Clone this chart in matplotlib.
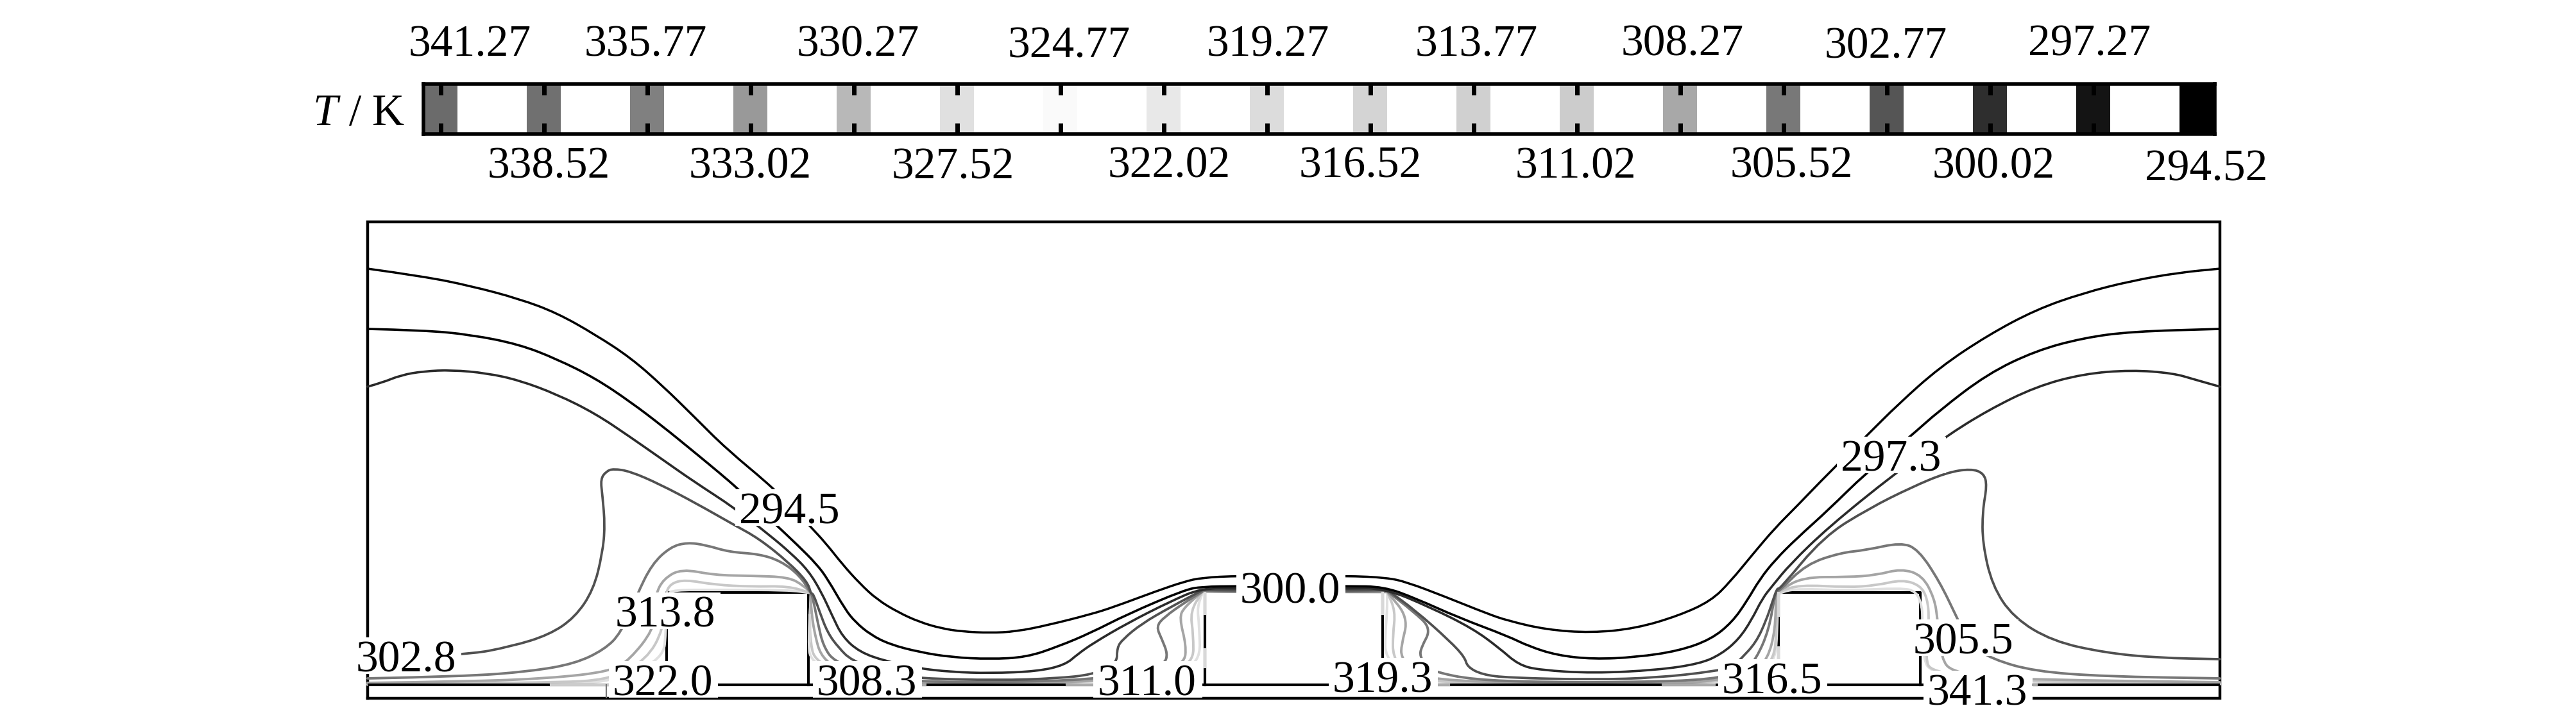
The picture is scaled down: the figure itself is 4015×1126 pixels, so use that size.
import matplotlib
matplotlib.use('Agg')
from matplotlib import pyplot as plt
from matplotlib.path import Path
from matplotlib.patches import PathPatch, Rectangle

W, H = 4016, 1126
plt.rcParams['font.family'] = ['Liberation Serif', 'DejaVu Serif']
plt.rcParams['mathtext.fontset'] = 'custom'
plt.rcParams['mathtext.it'] = 'Liberation Serif:italic'
plt.rcParams['mathtext.rm'] = 'Liberation Serif'

# colour bar values
temps = [341.27, 338.52, 335.77, 333.02, 330.27, 327.52, 324.77, 322.02, 319.27,
         316.52, 313.77, 311.02, 308.27, 305.52, 302.77, 300.02, 297.27, 294.52]
grays = ['#6b6b6b', '#707070', '#808080', '#999999', '#b8b8b8', '#e0e0e0', '#fafafa', '#e8e8e8', '#dcdcdc',
         '#d4d4d4', '#d0d0d0', '#cccccc', '#a8a8a8', '#787878', '#555555', '#2e2e2e', '#141414', '#000000']
temp_label_x = [732, 855, 1006, 1169, 1337, 1485, 1666, 1822, 1976,
                2120, 2301, 2456, 2622, 2792, 2939, 3107, 3257, 3439]
temp_label_y = [65, 255, 65, 255, 65, 256, 67, 254, 65, 254, 65, 255, 64, 254, 68, 255, 64, 259]

# isotherms (x, y in picture pixels), repeated points are sharp corners
line_a = [(573, 419), (660, 431), (734, 446), (809, 466), (868, 488), (928, 522), (983, 558), (1033, 602),
          (1082, 650), (1132, 700), (1209, 764), (1262, 820), (1287, 847), (1313, 880), (1340, 910), (1367, 935),
          (1400, 955), (1433, 970), (1467, 980), (1500, 985), (1543, 987), (1583, 985), (1633, 975), (1700, 958),
          (1735, 947), (1802, 922), (1846, 907), (1873, 901), (1929, 898), (2101, 898), (2162, 901), (2193, 908),
          (2251, 930), (2318, 957), (2350, 968), (2410, 982), (2480, 987), (2550, 980), (2617, 960), (2667, 937),
          (2697, 907), (2733, 863), (2767, 823), (2800, 790), (2850, 738), (2909, 680), (2959, 630), (3023, 573),
          (3098, 523), (3173, 483), (3247, 457), (3322, 438), (3397, 425), (3460, 419)]
line_b = [(573, 513), (660, 515), (734, 522), (809, 537), (868, 560), (928, 590), (983, 627), (1033, 665),
          (1082, 705), (1122, 738), (1151, 763), (1210, 819), (1243, 850), (1273, 880), (1290, 903), (1317, 950),
          (1333, 970), (1357, 990), (1387, 1005), (1433, 1017), (1483, 1025), (1543, 1028), (1600, 1025), (1650, 1008),
          (1700, 987), (1757, 958), (1846, 920), (1873, 915), (1929, 914), (2101, 914), (2157, 915), (2206, 933),
          (2273, 963), (2350, 992), (2383, 1008), (2427, 1022), (2483, 1028), (2550, 1025), (2617, 1015), (2667, 997),
          (2700, 970), (2723, 937), (2743, 903), (2767, 873), (2800, 840), (2850, 795), (2908, 738), (2976, 682),
          (3023, 640), (3098, 583), (3173, 547), (3247, 527), (3322, 517), (3460, 513)]
line_c = [(573, 603), (595, 597), (625, 585), (660, 579), (704, 577), (759, 582), (809, 593), (868, 615),
          (928, 645), (983, 682), (1033, 717), (1080, 750), (1146, 793), (1200, 835), (1233, 863), (1260, 890),
          (1280, 923), (1297, 960), (1313, 993), (1340, 1017), (1380, 1031), (1429, 1042), (1483, 1048), (1543, 1050),
          (1617, 1047), (1660, 1037), (1680, 1020), (1704, 1003), (1757, 972), (1824, 938), (1873, 917), (1929, 918),
          (2101, 918), (2157, 917), (2229, 947), (2295, 980), (2336, 1010), (2367, 1037), (2400, 1045), (2483, 1050),
          (2583, 1045), (2650, 1035), (2683, 1020), (2710, 997), (2730, 967), (2747, 933), (2763, 913), (2790, 880),
          (2850, 822), (2954, 738), (3031, 682), (3098, 640), (3173, 603), (3247, 583), (3322, 577), (3387, 582),
          (3421, 592), (3460, 603)]
line_d = [(573, 1028), (725, 1022), (798, 1008), (856, 990), (896, 963), (925, 920), (939, 863), (943, 820),
          (939, 773), (936, 747), (945, 735), (956, 731), (982, 735), (1028, 755), (1085, 785), (1143, 818),
          (1183, 840), (1229, 877), (1258, 907), (1264, 925), (1264, 925), (1268, 927), (1277, 953), (1290, 987),
          (1307, 1010), (1327, 1030), (1380, 1050), (1430, 1058), (1556, 1061), (1646, 1058), (1704, 1052), (1741, 1035),
          (1741, 1010), (1750, 997), (1779, 973), (1824, 947), (1875, 920), (1875, 920), (1930, 921), (2101, 921),
          (2162, 920), (2162, 920), (2206, 952), (2260, 1000), (2283, 1025), (2287, 1040), (2310, 1052), (2350, 1057),
          (2483, 1060), (2583, 1057), (2672, 1047), (2700, 1040), (2713, 1028), (2737, 1002), (2753, 967), (2763, 937),
          (2770, 917), (2773, 920), (2842, 837), (2913, 793), (2979, 760), (3034, 737), (3072, 731), (3092, 738),
          (3097, 757), (3090, 797), (3090, 847), (3105, 913), (3138, 963), (3199, 1000), (3281, 1018), (3363, 1026),
          (3460, 1028)]
line_e = [(573, 1058), (724, 1055), (827, 1047), (896, 1035), (942, 1013), (968, 987), (993, 927), (1016, 880),
          (1045, 853), (1071, 846), (1100, 850), (1137, 861), (1183, 864), (1217, 875), (1246, 897), (1264, 925),
          (1264, 925), (1267, 933), (1275, 973), (1283, 1007), (1300, 1032), (1360, 1055), (1429, 1063), (1556, 1064),
          (1704, 1060), (1790, 1045), (1815, 1035), (1820, 1020), (1811, 997), (1802, 977), (1815, 962), (1846, 940),
          (1875, 922), (1875, 922), (1930, 923), (2101, 923), (2162, 922), (2162, 922), (2202, 953), (2231, 980),
          (2215, 1010), (2213, 1024), (2225, 1040), (2237, 1048), (2295, 1060), (2407, 1064), (2541, 1064), (2670, 1060),
          (2720, 1045), (2737, 1028), (2757, 983), (2767, 923), (2773, 922), (2815, 880), (2869, 862), (2908, 858),
          (2963, 846), (2990, 857), (3023, 907), (3050, 963), (3070, 1005), (3105, 1028), (3171, 1047), (3281, 1055),
          (3460, 1058)]
line_f = [(573, 1065), (724, 1063), (856, 1058), (953, 1047), (982, 1028), (1018, 983), (1025, 940), (1022, 927),
          (1034, 903), (1062, 887), (1114, 897), (1171, 898), (1229, 900), (1252, 913), (1264, 925), (1264, 925),
          (1263, 933), (1268, 983), (1282, 1032), (1340, 1058), (1430, 1066), (1556, 1066), (1704, 1063), (1800, 1050),
          (1846, 1035), (1849, 1007), (1838, 963), (1846, 947), (1875, 922), (1875, 922), (2162, 923), (2162, 923),
          (2195, 963), (2184, 1007), (2184, 1024), (2200, 1048), (2237, 1060), (2362, 1065), (2586, 1066), (2670, 1063),
          (2735, 1045), (2755, 1028), (2767, 983), (2768, 923), (2773, 922), (2809, 900), (2880, 900), (2924, 897),
          (2963, 887), (2996, 897), (3015, 933), (3020, 967), (3026, 1028), (3042, 1047), (3100, 1056), (3171, 1060),
          (3460, 1064)]
line_g = [(573, 1067), (856, 1065), (953, 1060), (1008, 1028), (1034, 982), (1037, 927), (1045, 910), (1068, 904),
          (1114, 912), (1171, 915), (1229, 914), (1264, 925), (1264, 925), (1262, 967), (1263, 1000), (1270, 1032),
          (1340, 1062), (1430, 1067), (1704, 1065), (1810, 1050), (1860, 1035), (1860, 990), (1855, 953), (1875, 922),
          (1875, 922), (2162, 923), (2162, 923), (2175, 953), (2171, 990), (2171, 1024), (2190, 1050), (2246, 1067),
          (2670, 1067), (2740, 1050), (2765, 1028), (2769, 983), (2769, 927), (2773, 923), (2804, 912), (2880, 916),
          (2924, 913), (2965, 904), (2993, 913), (3004, 933), (3007, 967), (3001, 1028), (3010, 1047), (3090, 1058),
          (3171, 1063), (3460, 1066)]
line_h = [(573, 1068), (856, 1067), (953, 1064), (1034, 1028), (1038, 982), (1040, 927), (1050, 920), (1114, 920),
          (1229, 920), (1264, 925), (1264, 925), (1260, 1000), (1263, 1032), (1320, 1060), (1430, 1067), (1704, 1065),
          (1820, 1050), (1871, 1035), (1869, 973), (1866, 947), (1875, 923), (1875, 923), (2162, 924), (2162, 924),
          (2162, 953), (2159, 990), (2159, 1024), (2190, 1055), (2246, 1067), (2670, 1067), (2745, 1052), (2767, 1028),
          (2770, 983), (2771, 930), (2776, 923), (2804, 918), (2880, 921), (2963, 917), (2987, 922), (2996, 947),
          (2996, 967), (2998, 1030), (3010, 1047), (3060, 1060), (3171, 1065), (3460, 1067)]

line_colors = ['#e0e0e0', '#c8c8c8', '#a5a5a5', '#777777', '#505050', '#2a2a2a', '#000000', '#000000']
line_widths = [2.8, 2.8, 2.8, 2.8, 2.7, 2.6, 2.6, 2.5]

# black walls: bottom edge and the three ribs
floor_x = [573, 3460]
floor_y = [1068, 1068]
ribs = [(1039, 1260), (1878, 2155), (2772, 2993)]
rib_tops = [924, 920, 924]
floor_gray = [(859, 953, '#cccccc'), (1429, 1442, '#aaaaaa'), (1663, 1704, '#aaaaaa'),
              (2237, 2258, '#aaaaaa'), (2592, 2672, '#aaaaaa'), (3171, 3174, '#aaaaaa')]
wall_gray = [(1878, 925, 957), (1878, 1013, 1040), (1262, 960, 1000), (2155, 925, 957), (2772, 925, 960), (2772, 1010, 1030)]

iso_labels = ['294.5', '313.8', '302.8', '322.0', '308.3', '311.0', '300.0', '319.3', '316.5', '341.3', '305.5', '297.3']
iso_label_x = [1230, 1037, 633, 1033, 1351, 1788, 2011, 2155, 2762, 3082, 3060, 2947]
iso_label_y = [794, 955, 1025, 1062, 1062, 1062, 918, 1057, 1059, 1077, 997, 712]


def smooth_path(pts):
    # quadratic curve through the midpoints, the read points are its control points
    verts = [pts[0]]
    codes = [Path.MOVETO]
    for i in range(1, len(pts) - 1):
        mid = ((pts[i][0] + pts[i + 1][0]) / 2, (pts[i][1] + pts[i + 1][1]) / 2)
        verts += [pts[i], mid]
        codes += [Path.CURVE3, Path.CURVE3]
    verts.append(pts[-1])
    codes.append(Path.LINETO)
    return Path(verts, codes)


def px_text(x, y, s, **kw):
    fig.text(x / W, 1 - (y + 6) / H, s, ha='center', va='center', **kw)


fig = plt.figure(figsize=(W / 100, H / 100), dpi=100)

# colour bar
cax = fig.add_axes([660 / W, 1 - 208.7 / H, (3452 - 660) / W, (208.7 - 130.6) / H])
cax.bar(temps, [1] * len(temps), width=0.905, bottom=0, color=grays, align='center')
cax.set_xlim(341.73, 294.04)
cax.set_ylim(0, 1)
cax.set_yticks([])
cax.set_xticks(temps)
cax.tick_params(axis='x', top=True, bottom=True, direction='in', length=12, width=5,
                labelbottom=False, color='black')
for s in cax.spines.values():
    s.set_linewidth(4)
for t, gx, gy in zip(temps, temp_label_x, temp_label_y):
    px_text(gx, gy, '%.2f' % t, fontsize=50)
px_text(559, 172, r'$T$ / K', fontsize=50)

# temperature field
ax = fig.add_axes([573 / W, 1 - 1089 / H, (3460 - 573) / W, (1089 - 346) / H])
ax.set_xlim(573, 3460)
ax.set_ylim(1089, 346)
ax.axis('off')

# outer box
ax.plot([573, 573, 3460, 3460, 573], [1089, 346, 346, 1089, 1089], color='black', lw=3.2, clip_on=False,
        solid_joinstyle='miter', zorder=1)
for (x0, x1), top in zip(ribs, rib_tops):
    ax.plot([x0, x0, x1, x1], [1068, top, top, 1068], color='black', lw=3, clip_on=False, zorder=1)

all_lines = [line_h, line_g, line_f, line_e, line_d, line_c, line_b, line_a]
for pts, col, lw in zip(all_lines, line_colors, line_widths):
    ax.add_patch(PathPatch(smooth_path(pts), fill=False, ec=col, lw=lw, capstyle='round', zorder=2, clip_on=False))

ax.plot(floor_x, floor_y, color='black', lw=3, zorder=3)
for x0, x1, col in floor_gray:
    ax.plot([x0, x1], [1068, 1068], color=col, lw=3, zorder=3)
for wx, y0, y1 in wall_gray:
    ax.plot([wx, wx], [y0, y1], color='#d8d8d8', lw=3, zorder=3)
ax.plot([945, 945], [1068, 1088], color='#777777', lw=1.6, zorder=3)

# white boxes behind the labels cut the lines
for s, lx, ly in zip(iso_labels, iso_label_x, iso_label_y):
    ax.add_patch(Rectangle((lx - 84, ly - 31), 170, 57, fc='white', ec='none', zorder=4, clip_on=False))
    ax.text(lx, ly + 6, s, fontsize=50, ha='center', va='center', zorder=5)

fig.savefig('out.png', dpi=100)
